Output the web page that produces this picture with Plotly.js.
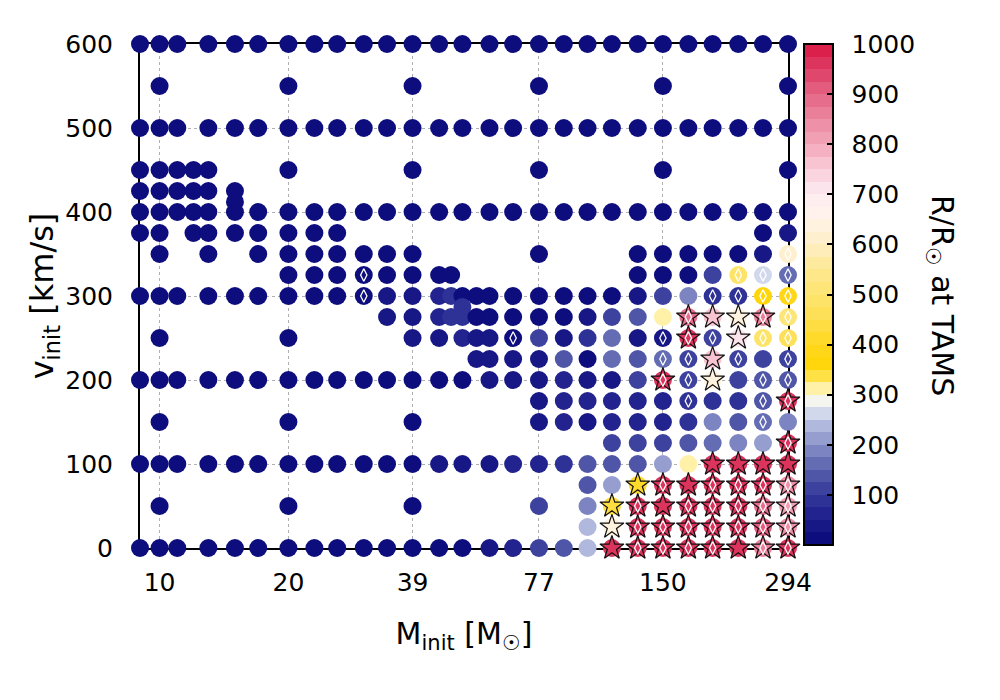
<!DOCTYPE html>
<html><head><meta charset="utf-8">
<script src="https://cdn.plot.ly/plotly-3.0.1.min.js"></script>
<style>html,body{margin:0;padding:0;background:#fff}#chart{width:1000px;height:700px}</style>
</head><body><div id="chart"></div>
<script>
// Initial rotation velocity of each grid row [km/s]
const velocityRows = [600, 550, 500, 450, 425, 412, 400, 375, 350, 325, 300, 287, 275, 250, 225, 200, 175, 150, 125, 100, 75, 50, 25, 0];

// Initial masses present in each row [Msun]
const massRows = [
  [9,10,11,13,15,17,20,23,26,30,34,39,45,51,59,67,77,88,100,114,131,150,172,196,225,257,294],
  [10,20,39,77,150,294],
  [9,10,11,13,15,17,20,23,26,30,34,39,45,51,59,67,77,88,100,114,131,150,172,196,225,257,294],
  [9,10,11,12,13,20,39,77,150,294],
  [9,10,11,12,13,15],
  [15],
  [9,10,11,12,13,15,17,20,23,26,30,34,39,45,51,59,67,77,88,100,114,131,150,172,196,225,257,294],
  [9,10,12,13,15,17,20,23,26,257,294],
  [10,13,17,20,23,26,30,34,39,77,131,150,172,196,225,257,294],
  [20,23,26,30,34,39,45,48,131,150,172,196,225,257,294],
  [9,10,11,13,15,17,20,23,26,30,34,39,45,48,51,55,59,67,77,88,100,114,131,150,172,196,225,257,294],
  [51],
  [34,39,45,48,51,55,59,67,77,88,100,114,131,150,172,196,225,257,294],
  [10,20,39,45,51,55,59,67,77,88,100,114,131,150,172,196,225,257,294],
  [55,59,67,77,88,100,114,131,150,172,196,225,257,294],
  [9,10,11,13,15,17,20,23,26,30,34,39,45,51,59,67,77,88,100,114,131,150,172,196,225,257,294],
  [77,88,100,114,131,150,172,196,225,257,294],
  [10,20,39,77,88,100,114,131,150,172,196,225,257,294],
  [114,131,150,172,196,225,257,294],
  [9,10,11,13,15,17,20,23,26,30,34,39,45,51,59,67,77,88,100,114,131,150,172,196,225,257,294],
  [100,114,131,150,172,196,225,257,294],
  [10,20,39,77,100,114,131,150,172,196,225,257,294],
  [100,114,131,150,172,196,225,257,294],
  [9,10,11,13,15,17,20,23,26,30,34,39,45,51,59,67,77,88,100,114,131,150,172,196,225,257,294]
];

// Radius at TAMS [Rsun] for each point
const radiusRows = [
  [10,10,10,10,10,10,10,10,10,10,10,10,10,10,10,10,10,10,10,10,10,10,10,10,10,10,10],
  [10,10,10,10,10,10],
  [10,10,10,10,10,10,10,10,10,10,10,10,10,10,10,10,10,10,10,10,10,10,10,10,10,10,10],
  [10,10,10,10,10,10,10,10,10,10],
  [10,10,10,10,10,10],
  [10],
  [10,10,10,10,10,10,10,10,10,10,10,10,10,10,10,10,10,10,10,10,10,10,10,10,10,10,10,12],
  [10,10,10,10,10,10,10,10,10,12,40],
  [10,10,10,10,10,10,10,10,10,10,10,10,10,10,10,25,620],
  [10,10,10,10,10,10,10,10,10,10,10,105,480,265,160],
  [10,10,10,10,10,10,10,10,10,10,30,30,55,75,10,10,10,10,10,10,10,10,35,110,190,85,85,370,380],
  [80],
  [30,40,55,75,75,10,10,10,10,10,30,105,135,310,890,770,630,860,520],
  [10,10,30,40,55,40,40,10,105,40,75,150,30,40,960,105,700,480,450],
  [40,40,30,30,135,10,160,135,170,105,760,105,105,105],
  [10,10,10,10,10,10,10,10,10,10,10,10,20,10,30,30,40,55,40,40,105,960,105,630,105,135,125],
  [40,55,55,55,60,60,75,75,80,135,950],
  [10,10,10,40,55,40,50,70,60,80,195,125,160,180],
  [105,105,100,140,160,195,215,950],
  [10,10,10,10,10,10,10,10,10,10,10,15,30,30,40,50,60,85,125,125,145,205,310,970,970,970,970],
  [135,205,400,960,960,960,960,960,830],
  [10,10,15,105,195,430,960,960,960,960,960,890,820],
  [235,640,960,960,960,960,960,920,830],
  [10,10,10,10,10,10,10,10,10,10,10,10,10,10,30,60,105,140,235,970,960,960,960,960,970,860,960]
];

// Marker kind: 0 circle, 1 circle + diamond, 2 star, 3 star + diamond (empty row = all circles)
const kindRows = [
  [], [], [], [], [], [], [], [],
  [0,0,0,0,0,0,0,0,0,0,0,0,0,0,0,0,1],
  [0,0,0,1,0,0,0,0,0,0,0,0,1,1,1],
  [0,0,0,0,0,0,0,0,0,1,0,0,0,0,0,0,0,0,0,0,0,0,0,0,0,1,1,1,1],
  [],
  [0,0,0,0,0,0,0,0,0,0,0,0,0,0,3,2,2,3,1],
  [0,0,0,0,0,0,0,1,0,0,0,0,0,1,3,1,2,1,1],
  [0,0,0,0,0,0,0,0,1,1,2,1,0,1],
  [0,0,0,0,0,0,0,0,0,0,0,0,0,0,0,0,0,0,0,0,0,3,1,2,0,1,1],
  [0,0,0,0,0,0,1,0,0,1,3],
  [0,0,0,0,0,0,0,0,0,0,0,0,1,0],
  [0,0,0,0,0,0,0,3],
  [0,0,0,0,0,0,0,0,0,0,0,0,0,0,0,0,0,0,0,0,0,0,0,2,2,2,2],
  [0,0,2,3,2,3,3,3,3],
  [0,0,0,0,0,2,3,2,3,3,3,3,3],
  [0,2,3,3,3,3,3,3,3],
  [0,0,0,0,0,0,0,0,0,0,0,0,0,0,0,0,0,0,0,2,3,3,3,3,2,3,3]
];

const xTickVals = [10, 20, 39, 77, 150, 294];
const yTickVals = [0, 100, 200, 300, 400, 500, 600];
const cbTickVals = [100, 200, 300, 400, 500, 600, 700, 800, 900, 1000];

// ---- flatten table ----
const all = {x: [], y: [], r: []}, stars = {x: [], y: [], r: []}, dia = {x: [], y: []};
velocityRows.forEach((v, i) => {
  massRows[i].forEach((m, j) => {
    const r = radiusRows[i][j];
    const k = kindRows[i][j] || 0;
    all.x.push(m); all.y.push(v); all.r.push(r);
    if (k >= 2) { stars.x.push(m); stars.y.push(v); stars.r.push(r); }
    if (k === 1 || k === 3) { dia.x.push(m); dia.y.push(v); }
  });
});

// ---- stepped colour map (25-unit bands) ----
const anchors = [
  [0.00, [8, 8, 122]], [0.05, [28, 28, 138]], [0.10, [52, 56, 154]], [0.15, [88, 96, 172]],
  [0.20, [136, 145, 200]], [0.25, [190, 198, 228]], [0.28, [236, 242, 248]], [0.30, [255, 250, 222]],
  [0.33, [255, 228, 90]], [0.36, [255, 214, 10]], [0.40, [255, 216, 30]], [0.45, [253, 223, 80]],
  [0.50, [253, 228, 112]], [0.55, [253, 232, 146]], [0.60, [254, 238, 196]], [0.65, [255, 244, 234]],
  [0.70, [253, 236, 242]], [0.75, [249, 205, 217]], [0.80, [243, 168, 186]], [0.85, [236, 136, 160]],
  [0.90, [228, 100, 132]], [0.95, [222, 62, 102]], [1.00, [218, 22, 66]]
];
function interp(t) {
  for (let i = 1; i < anchors.length; i++) {
    if (t <= anchors[i][0]) {
      const a = anchors[i - 1], b = anchors[i];
      const f = (t - a[0]) / (b[0] - a[0]);
      const c = a[1].map((v, k) => Math.round(v + f * (b[1][k] - v)));
      return 'rgb(' + c.join(',') + ')';
    }
  }
  return 'rgb(' + anchors[anchors.length - 1][1].join(',') + ')';
}
const nBands = 40, colorscale = [];
for (let i = 0; i < nBands; i++) {
  const c = interp((i + 0.5) / nBands);
  colorscale.push([i / nBands, c]);
  colorscale.push([(i + 1) / nBands, c]);
}

const font = 'DejaVu Sans, Bitstream Vera Sans, sans-serif';
const cbGeom = {
  thickness: 29, len: 0.994, lenmode: 'fraction', y: 1.0, yanchor: 'top', ypad: 0,
  x: 1.0247, xanchor: 'left', xpad: 0, outlinewidth: 2, outlinecolor: '#000', tickvals: cbTickVals
};

const traces = [
  {
    type: 'scatter', mode: 'markers', x: all.x, y: all.y, cliponaxis: false, hoverinfo: 'skip',
    marker: {
      symbol: 'circle', size: 18, color: all.r, colorscale: colorscale, cmin: 0, cmax: 1000,
      line: {width: 0},
      colorbar: Object.assign({}, cbGeom, {
        ticks: 'outside', ticklen: 13, tickwidth: 1, tickcolor: 'rgba(0,0,0,0)',
        tickfont: {family: font, size: 25, color: '#000'}
      })
    }
  },
  {
    type: 'scatter', mode: 'markers', x: stars.x, y: stars.y, cliponaxis: false, hoverinfo: 'skip',
    marker: {
      symbol: 'star', size: 18, color: stars.r, colorscale: colorscale, cmin: 0, cmax: 1000,
      showscale: true, line: {width: 1.2, color: '#111'},
      colorbar: Object.assign({}, cbGeom, {
        ticks: 'inside', ticklen: 7, tickwidth: 2, tickcolor: '#000', showticklabels: false
      })
    }
  },
  {
    type: 'scatter', mode: 'markers', x: dia.x, y: dia.y, cliponaxis: false, hoverinfo: 'skip',
    marker: {symbol: 'diamond-tall-open', size: 9, color: '#fff', line: {width: 1.3, color: '#fff'}}
  }
];

const layout = {
  width: 1000, height: 700,
  margin: {l: 140, r: 212, t: 44, b: 152},
  paper_bgcolor: '#fff', plot_bgcolor: '#fff',
  showlegend: false,
  font: {family: font, color: '#000'},
  xaxis: {
    type: 'log', range: [Math.log10(9), Math.log10(294)],
    tickvals: xTickVals, ticktext: xTickVals.map(String),
    showline: true, linewidth: 2, linecolor: '#000', mirror: true,
    showgrid: true, gridcolor: '#b0b0b0', griddash: 'dot', gridwidth: 1,
    zeroline: false, ticks: '', ticklabelstandoff: 11, layer: 'below traces',
    tickfont: {family: font, size: 25, color: '#000'},
    title: {text: 'M<sub>init</sub> [M<sub>☉</sub>]', font: {family: font, size: 30, color: '#000'}, standoff: 27}
  },
  yaxis: {
    range: [0, 600], tickvals: yTickVals,
    showline: true, linewidth: 2, linecolor: '#000', mirror: true,
    showgrid: true, gridcolor: '#b0b0b0', griddash: 'dot', gridwidth: 1,
    zeroline: false, ticks: '', ticklabelstandoff: 20, layer: 'below traces',
    tickfont: {family: font, size: 25, color: '#000'},
    title: {text: 'v<sub>init</sub> [km/s]', font: {family: font, size: 32, color: '#000'}, standoff: 2}
  },
  annotations: [{
    xref: 'paper', yref: 'paper', x: 1.2346, y: 0.502, xanchor: 'center', yanchor: 'middle',
    text: 'R/R<sub>☉</sub> at TAMS', textangle: 90, showarrow: false,
    font: {family: font, size: 30, color: '#000'}
  }]
};

Plotly.newPlot('chart', traces, layout, {displayModeBar: false, staticPlot: true});
</script>
</body></html>
